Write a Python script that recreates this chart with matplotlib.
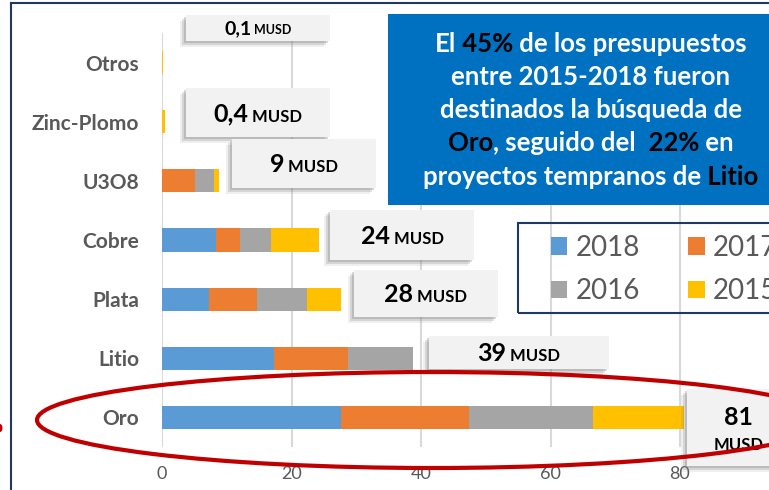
import matplotlib
matplotlib.use("Agg")
import matplotlib.pyplot as plt
from matplotlib.patches import Rectangle, Ellipse, Patch
from matplotlib.lines import Line2D
from matplotlib.transforms import offset_copy

# ---------------- data ----------------
categories = ["Oro", "Litio", "Plata", "Cobre", "U3O8", "Zinc-Plomo", "Otros"]
years = ["2018", "2017", "2016", "2015"]
v2018 = [27.6, 17.3, 7.3, 8.3, 0.0, 0.0, 0.0]
v2017 = [19.8, 11.5, 7.4, 3.7, 5.1, 0.0, 0.0]
v2016 = [19.2, 9.9, 7.7, 4.8, 2.9, 0.0, 0.0]
v2015 = [14.0, 0.0, 5.3, 7.5, 0.75, 0.4, 0.1]
total_labels = ["81", "39", "28", "24", "9", "0,4", "0,1"]
xticks = [0, 20, 40, 60, 80]

# label-box layout (data units)
box_left = [81.1, 41.2, 29.6, 26.0, 10.8, 3.7, 3.7]
box_right = [97.0, 69.0, 51.9, 48.2, 33.0, 25.9, 25.9]
box_bottom = [-0.82, 0.82, 1.70, 2.66, 3.88, 4.74, 6.37]
box_top = [0.48, 1.38, 2.50, 3.50, 4.71, 5.57, 6.80]

colors = ["#5B9BD5", "#ED7D31", "#A5A5A5", "#FFC000"]
FONT = ["Lato", "DejaVu Sans"]
GRAY = "#595959"
NAVY = "#1F3864"

W, H = 769, 490
fig = plt.figure(figsize=(W / 100, H / 100), dpi=100)
fig.patch.set_facecolor("white")
ax = fig.add_axes([162 / W, 43 / H, (W - 162) / W, 414 / H])
ax.set_facecolor("none")

series = [v2018, v2017, v2016, v2015]
ypos = list(range(len(categories)))
left = [0.0] * len(categories)
for vals, col, yr in zip(series, colors, years):
    ax.barh(ypos, vals, left=left, height=0.39, color=col, label=yr, zorder=2)
    left = [l + v for l, v in zip(left, vals)]

ax.set_xlim(0, (W - 162) / 6.475)
ax.set_ylim(-0.5, len(categories) - 0.5)
ax.set_xticks(xticks)
ax.set_yticks(ypos)
ax.set_yticklabels(categories, family=FONT, fontsize=15, fontweight="bold", color=GRAY)
ax.set_xticklabels([str(t) for t in xticks], family=FONT, fontsize=13, color=GRAY)
ax.tick_params(axis="y", length=0, pad=16.5)
ax.tick_params(axis="x", length=0, pad=14)
ax.xaxis.grid(True, color="#D9D9D9", linewidth=1.5, zorder=0)
ax.set_axisbelow(True)
for s in ax.spines.values():
    s.set_visible(False)

renderer = fig.canvas.get_renderer()


def seg_widths(segs):
    ws = []
    for s, size, color in segs:
        t = fig.text(0, 0, s, fontsize=size, fontweight="bold", family=FONT)
        ws.append(t.get_window_extent(renderer).width)
        t.remove()
    return ws


def draw_segments(x, y, transform, segs, dy=0.0, zorder=6):
    ws = seg_widths(segs)
    cur = -sum(ws) / 2.0
    for (s, size, color), w in zip(segs, ws):
        tr = offset_copy(transform, fig=fig, x=cur, y=dy, units="dots")
        fig.text(x, y, s, transform=tr, ha="left", va="baseline", fontsize=size,
                 fontweight="bold", family=FONT, color=color, zorder=zorder)
        cur += w


# ---------------- value label boxes ----------------
for i in range(len(categories)):
    x0, x1, y0, y1 = box_left[i], box_right[i], box_bottom[i], box_top[i]
    for off, a in [(-2, 0.30), (-4, 0.22), (-6, 0.12)]:
        tr = offset_copy(ax.transData, fig=fig, x=off, y=off, units="dots")
        ax.add_patch(Rectangle((x0, y0), x1 - x0, y1 - y0, transform=tr,
                               facecolor="#7F7F7F", alpha=a, edgecolor="none",
                               clip_on=False, zorder=4))
    ax.add_patch(Rectangle((x0, y0), x1 - x0, y1 - y0, facecolor="#F2F2F2",
                           edgecolor="none", clip_on=False, zorder=5))
    cx = (x0 + x1) / 2
    cy = (y0 + y1) / 2
    if categories[i] == "Oro":
        draw_segments(cx, cy, ax.transData, [(total_labels[i], 18, "black")], dy=2)
        draw_segments(cx, cy, ax.transData, [("MUSD", 12, "black")], dy=-22.5)
    elif categories[i] == "Otros":
        draw_segments(cx, cy, ax.transData,
                      [(total_labels[i], 14, "black"), (" MUSD", 9, "black")], dy=-6.5)
    else:
        draw_segments(cx, cy, ax.transData,
                      [(total_labels[i], 18, "black"), (" MUSD", 12, "black")], dy=-9)

# ---------------- blue text box ----------------
inch = fig.dpi_scale_trans
fig.add_artist(Rectangle((3.88, (H - 205) / 100), 4.0, 1.91, transform=inch,
                         facecolor="#0070C0", edgecolor="none", zorder=5))
WH = "white"
BK = "#000000"
TS = 18.5
lines = [
    [("El", TS, WH), (" 45%", TS, BK), (" de los presupuestos", TS, WH)],
    [("entre 2015-2018 fueron", TS, WH)],
    [("destinados la búsqueda de", TS, WH)],
    [("Oro", TS, BK), (", seguido del", TS, WH), ("  22%", TS, BK), (" en", TS, WH)],
    [("proyectos tempranos de", TS, WH), (" Litio", TS, BK)],
]
baselines = [51.5, 84.8, 118.0, 151.3, 184.6]
for segs, b in zip(lines, baselines):
    draw_segments(5.91, (H - b) / 100, inch, segs)

# ---------------- legend ----------------
fig.add_artist(Rectangle((5.18, (H - 313) / 100), 3.0, 0.90, transform=inch,
                         facecolor="none", edgecolor=NAVY, linewidth=1.5, zorder=5))
handles = [Patch(facecolor=c, edgecolor="none") for c in colors]
order = [0, 2, 1, 3]  # row-wise reading: 2018 2017 / 2016 2015
leg = ax.legend([handles[k] for k in order], [years[k] for k in order], ncol=2,
                loc="center left",
                bbox_to_anchor=(5.51 / 7.69, (H - 269.5) / H), bbox_transform=fig.transFigure,
                frameon=False, prop={"family": FONT, "size": 20}, labelcolor=GRAY,
                handlelength=0.58, handleheight=0.58, handletextpad=0.3,
                columnspacing=1.75, labelspacing=0.63, borderpad=0, borderaxespad=0)
leg.set_zorder(6)

# ---------------- highlight ellipse & frame ----------------
fig.add_artist(Ellipse((4.32, (H - 420) / 100), 7.90, 0.96, transform=inch,
                       facecolor="none", edgecolor="#C00000", linewidth=3, zorder=8))
fig.add_artist(Ellipse((0.0, (H - 428) / 100), 0.05, 0.08, transform=inch,
                       facecolor="#C00000", edgecolor="none", zorder=8))
fig.add_artist(Line2D([0.11, 0.11], [0, (H - 3) / 100], transform=inch,
                      color=NAVY, linewidth=1.5, zorder=8))
fig.add_artist(Line2D([0.11, 7.69], [(H - 3) / 100, (H - 3) / 100], transform=inch,
                      color=NAVY, linewidth=1.5, zorder=8))

fig.savefig("out.png", dpi=100)
